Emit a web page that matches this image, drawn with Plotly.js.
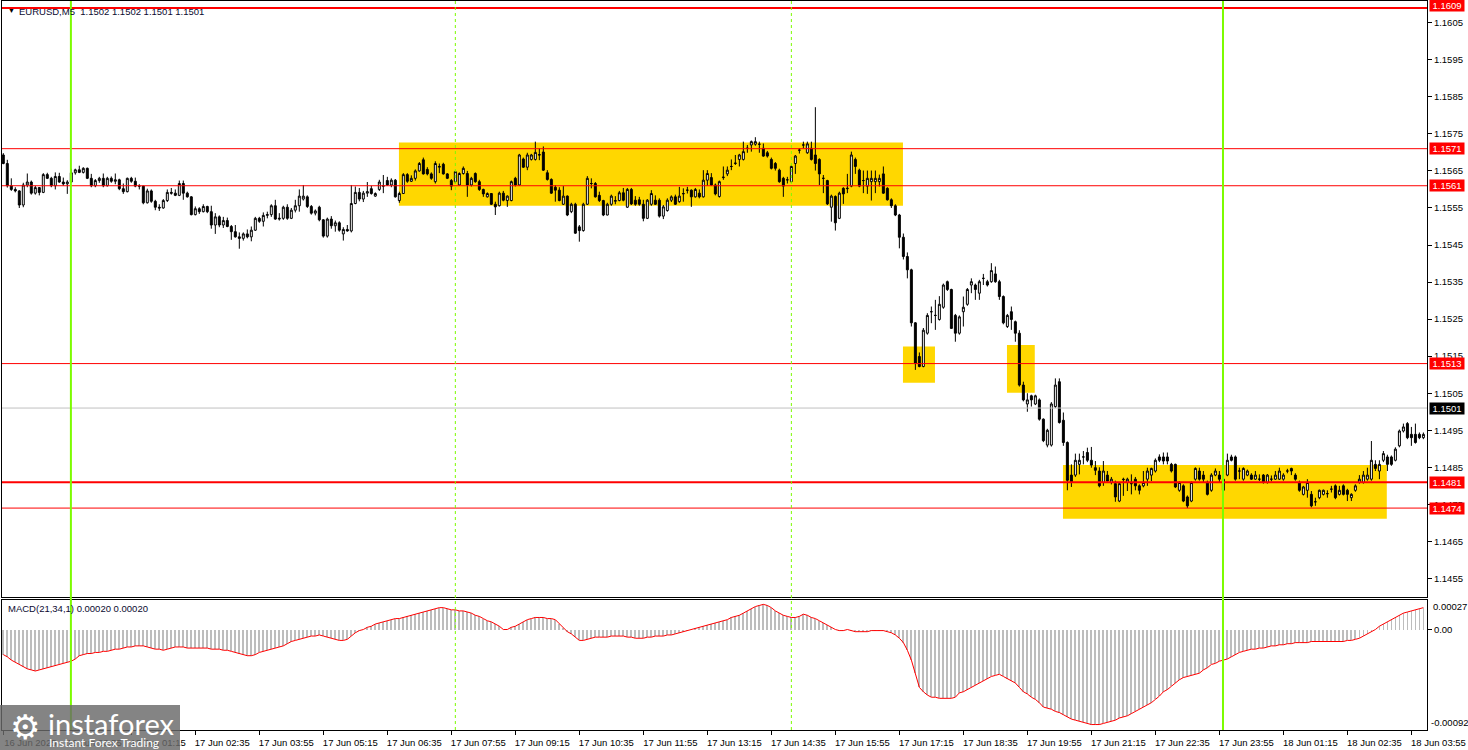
<!DOCTYPE html>
<html>
<head>
<meta charset="utf-8">
<script src="https://cdn.plot.ly/plotly-3.0.1.min.js"></script>
<style>html,body{margin:0;padding:0;background:#fff;}#chart{width:1468px;height:750px;}</style>
</head>
<body>
<div id="chart"></div>
<script>
// ---- DATA (prices as pips above 1.1500) ----
const BASE = 1.15;
const openPips = [
69.3,67.0,61.0,60.0,59.6,55.8,61.2,62.0,59.0,60.5,
59.2,64.0,63.0,61.0,63.5,62.0,61.5,62.0,64.5,65.3,
64.6,65.7,63.0,61.0,62.4,63.0,61.0,63.0,62.2,62.6,
60.2,59.4,63.0,62.2,60.9,60.9,56.4,59.6,56.8,55.2,
55.0,57.0,59.2,59.0,58.4,61.6,59.0,58.0,53.2,54.8,
54.0,55.4,54.0,50.4,52.6,50.4,51.6,50.0,48.6,47.2,
46.8,48.0,47.2,49.0,52.2,51.4,53.0,53.2,55.6,52.0,
52.2,55.2,52.2,54.4,55.6,57.4,58.0,55.4,53.6,55.2,
51.8,47.4,52.0,50.2,51.0,48.0,49.2,48.8,56.2,59.2,
57.4,59.0,60.2,58.2,60.0,61.0,62.4,61.2,62.5,57.0,
58.9,64.0,62.2,63.0,65.0,68.0,65.4,64.2,62.1,66.0,
66.8,64.2,62.4,62.1,61.2,64.3,64.3,61.2,64.3,62.1,
60.0,58.0,58.9,56.0,55.6,59.0,57.0,57.0,63.0,61.2,
68.2,66.0,68.1,68.1,69.4,70.1,64.5,62.7,60.6,59.8,
56.0,58.2,54.0,56.0,49.9,48.9,56.0,61.6,61.6,58.4,
57.0,53.1,56.0,56.8,57.0,59.1,55.2,60.0,57.1,57.2,
56.0,52.2,56.0,57.1,57.1,52.8,54.3,57.1,58.0,56.7,
58.8,59.8,59.8,58.0,59.0,58.0,62.5,63.2,61.2,58.1,
63.2,64.2,66.2,67.0,68.1,68.1,71.1,72.0,72.2,72.2,
71.1,69.9,68.1,67.0,65.2,63.0,62.6,62.1,67.0,70.6,
72.0,69.9,71.1,69.3,68.1,63.0,62.4,55.2,58.1,52.2,
60.3,60.2,60.9,68.1,65.2,62.4,60.9,62.1,62.1,62.1,
64.2,60.3,57.2,55.6,53.1,47.1,41.9,38.3,24.0,14.9,
12.2,21.2,27.0,26.0,24.9,28.2,35.1,33.0,26.0,21.2,
27.0,29.0,34.2,34.2,32.0,36.0,35.1,35.1,37.2,35.1,
31.1,23.0,27.0,24.3,21.2,7.2,2.1,4.3,2.1,3.2,
-2.0,-9.0,-9.0,1.4,8.1,-2.3,-8.3,-17.1,-17.1,-14.2,
-12.2,-11.0,-13.1,-15.1,-16.0,-19.1,-17.1,-19.1,-19.4,-24.1,
-18.2,-19.1,-19.4,-18.2,-20.0,-20.0,-18.2,-17.1,-16.0,-12.2,
-12.2,-12.2,-14.2,-14.2,-21.2,-20.0,-23.0,-24.1,-18.2,-16.0,
-17.1,-19.1,-21.2,-17.1,-17.1,-21.2,-17.1,-12.2,-12.2,-16.0,
-18.2,-17.1,-17.1,-18.2,-18.2,-17.1,-19.1,-18.2,-18.2,-18.2,
-18.2,-16.0,-15.3,-17.1,-19.1,-22.3,-21.2,-22.3,-24.3,-23.2,
-22.3,-22.1,-20.9,-20.0,-22.3,-20.0,-21.2,-23.2,-21.2,-19.1,
-19.1,-18.2,-18.2,-14.2,-16.0,-13.1,-12.2,-12.2,-13.1,-9.2,
-5.2,-3.2,-6.1,-6.1,-6.1,-7.0];
const highPips = [
69.8,68.0,63.0,60.6,59.8,61.8,64.3,62.4,61.0,60.6,
64.4,64.5,63.4,64.6,64.5,63.2,62.5,65.6,65.6,66.4,
66.0,65.9,64.2,62.8,63.4,64.3,63.4,63.5,64.3,62.9,
61.6,63.2,63.4,63.2,61.4,61.0,60.2,60.0,57.2,56.0,
57.4,60.0,60.4,60.0,62.4,62.4,59.4,58.2,55.4,55.2,
56.0,55.6,55.6,53.6,53.0,52.6,52.4,50.4,50.4,48.4,
48.4,49.2,50.0,52.6,52.6,53.8,54.0,56.0,57.2,53.6,
55.6,56.0,55.0,57.2,60.0,61.2,58.4,55.8,54.6,55.6,
52.0,52.4,52.8,51.6,51.4,49.8,50.4,61.2,60.8,60.4,
59.6,62.0,61.0,59.2,62.6,63.9,63.4,63.0,62.8,59.4,
64.4,64.4,63.8,65.4,67.4,68.6,66.0,64.6,67.6,67.0,
67.2,64.4,62.8,65.0,64.6,66.2,65.0,63.4,64.6,62.6,
60.2,59.2,59.0,56.7,59.4,59.6,58.4,62.4,63.4,69.6,
68.6,69.9,69.6,72.9,71.1,71.6,65.2,63.0,61.2,60.6,
60.9,58.4,56.4,56.4,50.4,56.4,63.6,63.0,62.0,59.4,
57.2,56.4,58.6,58.2,59.6,60.4,60.4,60.4,58.2,58.0,
57.2,57.4,59.8,58.4,57.6,55.8,57.6,58.4,58.6,60.7,
60.3,60.7,60.0,60.4,60.0,65.2,65.2,64.4,61.6,62.4,
66.2,66.2,68.1,69.3,69.6,72.9,72.0,73.2,74.1,72.9,
72.4,70.4,68.6,67.4,65.6,63.4,63.4,66.6,69.3,71.1,
72.9,72.9,72.9,82.2,68.4,63.9,62.6,58.6,58.4,59.4,
60.6,64.2,70.2,68.6,65.6,65.1,65.1,65.1,65.1,64.0,
66.2,60.6,57.6,56.0,53.4,48.1,43.0,38.6,24.2,16.0,
22.6,26.6,28.4,30.2,31.2,34.6,35.4,33.2,26.4,26.0,
31.1,33.4,36.0,34.6,35.6,37.2,35.6,40.1,39.2,35.6,
31.4,26.4,28.4,24.6,22.0,8.1,5.0,4.6,4.6,3.6,
-1.8,-4.6,2.6,9.0,9.0,-0.2,-8.0,-14.2,-11.3,-11.3,
-10.6,-9.7,-9.5,-13.3,-15.0,-13.3,-16.0,-17.6,-18.6,-19.0,
-17.8,-17.8,-16.9,-17.6,-19.6,-16.0,-15.1,-15.1,-12.6,-11.5,
-11.0,-11.0,-13.8,-14.0,-18.8,-19.6,-22.6,-18.8,-15.0,-15.1,
-16.0,-18.6,-16.6,-15.3,-16.0,-18.0,-11.3,-11.6,-11.8,-15.1,
-15.0,-15.6,-16.6,-16.0,-16.9,-16.8,-16.8,-17.2,-16.0,-15.1,
-16.6,-15.4,-15.1,-16.6,-18.6,-20.0,-18.2,-21.4,-23.2,-21.0,
-21.0,-21.2,-20.0,-19.6,-20.0,-19.6,-20.8,-22.0,-19.6,-17.1,
-16.0,-15.1,-7.9,-13.1,-13.1,-10.6,-11.6,-11.8,-9.6,-4.8,
-3.2,-2.8,-4.1,-3.2,-5.6,-5.6];
const lowPips = [
66.8,60.5,59.6,59.2,55.0,55.2,60.6,58.6,58.6,58.4,
59.0,62.8,60.6,60.0,61.8,61.0,58.8,61.8,64.0,64.4,
64.3,62.8,60.6,60.6,61.8,60.6,60.8,61.8,61.4,59.8,
58.8,59.2,61.8,60.6,60.0,56.0,56.2,56.4,54.4,54.2,
54.8,56.6,58.6,58.2,58.2,57.2,57.8,53.0,53.0,53.4,
53.8,53.6,49.4,48.0,49.8,49.6,49.8,46.4,47.0,44.0,
46.2,46.8,46.0,48.8,51.0,50.0,52.2,52.6,51.8,51.6,
51.8,51.8,52.0,53.8,54.0,57.0,55.0,53.2,53.0,51.4,
47.0,47.0,49.4,48.6,48.6,46.2,48.6,48.4,56.0,56.8,
56.6,58.0,58.6,58.0,59.6,59.0,61.0,60.6,57.8,56.4,
58.8,61.8,62.0,62.4,64.8,64.0,63.8,62.6,61.6,64.4,
64.0,62.8,59.8,61.6,61.0,64.0,58.0,60.8,61.8,59.6,
58.0,57.8,55.8,53.1,55.4,56.8,55.3,56.8,60.8,61.0,
65.8,65.2,67.8,67.8,67.9,65.0,62.4,58.8,56.7,56.8,
55.8,52.8,53.6,48.0,45.9,48.6,55.8,60.3,57.8,56.6,
52.8,53.0,55.6,56.0,56.8,56.8,55.0,55.8,55.6,55.6,
51.4,52.0,55.6,55.8,52.4,52.0,54.0,56.6,55.8,56.4,
56.7,58.9,55.3,57.8,57.6,57.8,61.0,61.0,58.4,57.8,
62.6,63.6,65.2,66.6,66.2,67.8,69.9,70.2,71.8,69.9,
68.8,68.6,65.4,65.1,61.8,58.0,61.6,61.8,64.2,69.7,
71.1,69.6,67.8,65.1,61.2,59.0,55.8,51.3,48.9,52.0,
56.1,59.0,60.6,64.2,60.6,59.0,58.8,57.0,59.0,60.8,
58.8,57.0,55.0,52.8,44.1,41.1,36.0,23.0,11.3,12.0,
12.0,20.8,23.9,22.1,24.6,27.8,32.6,22.4,18.9,20.8,
23.0,28.6,32.0,30.2,30.2,34.2,33.8,34.8,34.8,30.2,
23.6,22.6,22.1,18.9,6.8,2.8,0.0,1.4,1.8,-2.4,
-8.2,-9.6,-9.4,1.0,-3.2,-9.2,-21.2,-20.3,-17.6,-16.9,
-14.2,-13.6,-15.1,-17.1,-20.4,-20.0,-18.8,-19.6,-24.3,-24.4,
-22.7,-21.4,-22.3,-21.2,-22.3,-20.4,-20.0,-18.7,-16.4,-13.6,
-14.2,-14.2,-16.4,-20.6,-21.6,-24.4,-26.0,-24.4,-18.6,-18.6,
-19.1,-22.6,-21.6,-17.4,-19.1,-21.6,-17.4,-13.4,-18.6,-18.2,
-18.6,-17.4,-18.4,-18.4,-18.7,-19.4,-19.4,-18.8,-18.4,-18.4,
-18.6,-16.6,-17.1,-18.6,-21.6,-22.6,-23.2,-25.8,-25.4,-23.6,
-22.6,-23.2,-21.8,-23.6,-22.6,-22.6,-24.1,-24.1,-21.6,-19.4,
-19.4,-18.6,-18.6,-16.0,-18.2,-13.6,-16.0,-14.6,-13.4,-9.6,
-5.6,-7.4,-9.2,-8.6,-7.4,-7.4];
const closePips = [
67.0,61.0,60.0,59.6,55.8,61.2,62.0,59.0,60.5,59.2,
64.0,63.0,61.0,63.5,62.0,61.5,62.0,64.5,65.3,64.6,
65.7,63.0,61.0,62.4,63.0,61.0,63.0,62.2,62.6,60.2,
59.4,63.0,62.2,60.9,60.9,56.4,59.6,56.8,55.2,55.0,
57.0,59.2,59.0,58.4,61.6,59.0,58.0,53.2,54.8,54.0,
55.4,54.0,50.4,52.6,50.4,51.6,50.0,48.6,47.2,46.8,
48.0,47.2,49.0,52.2,51.4,53.0,53.2,55.6,52.0,52.2,
55.2,52.2,54.4,55.6,58.2,58.2,55.4,53.6,54.2,51.8,
47.4,52.0,50.2,51.0,49.0,49.2,48.8,56.2,59.2,57.4,
59.0,59.4,58.9,58.9,62.0,60.9,61.2,62.5,58.0,58.9,
64.0,62.2,63.0,65.0,67.0,64.2,64.2,63.0,67.0,66.2,
64.2,63.0,60.9,64.8,64.3,65.7,61.2,63.0,62.1,60.0,
58.8,58.9,56.0,55.3,59.0,57.1,58.2,62.1,61.2,69.3,
66.0,69.3,69.3,70.0,69.3,65.2,62.7,59.0,59.8,57.0,
58.2,53.1,56.0,48.2,48.9,56.0,63.0,61.6,58.0,57.0,
53.1,56.0,58.2,57.0,59.1,57.1,60.0,56.1,56.0,56.0,
52.2,57.1,58.9,56.0,52.8,55.3,57.1,58.0,56.0,58.2,
58.9,59.8,58.0,60.0,58.0,62.5,64.3,61.2,58.8,62.1,
63.3,65.2,66.2,67.1,69.3,70.2,71.1,72.9,72.9,72.2,
69.0,69.0,65.7,65.7,62.1,60.9,62.6,66.2,69.0,70.6,
72.0,72.3,68.1,67.0,64.2,63.0,56.1,58.2,51.0,59.0,
58.8,60.3,69.3,66.2,60.9,62.4,63.0,63.0,63.0,63.0,
59.0,57.2,55.6,53.1,47.1,41.9,38.3,24.0,13.0,12.2,
22.0,26.0,27.0,26.0,29.0,34.2,33.0,22.5,21.2,25.6,
28.2,33.0,35.1,33.0,35.1,36.0,34.2,38.1,35.1,31.1,
24.0,26.0,24.9,21.2,7.2,3.2,3.2,3.2,4.3,-2.0,
-7.8,-5.0,2.1,7.2,-2.9,-8.3,-18.5,-18.9,-13.1,-13.1,
-12.2,-13.1,-14.4,-15.8,-20.0,-16.0,-18.7,-18.2,-23.0,-19.4,
-18.3,-18.2,-19.4,-20.0,-21.2,-19.1,-16.0,-15.3,-13.1,-13.1,
-13.3,-13.3,-16.0,-20.3,-19.1,-24.1,-25.4,-19.1,-15.3,-18.2,
-18.2,-22.3,-17.1,-16.0,-18.2,-18.2,-13.1,-13.1,-18.2,-16.0,
-15.3,-16.0,-18.2,-17.1,-18.2,-19.1,-17.1,-18.2,-17.1,-16.0,
-17.1,-16.0,-16.0,-18.2,-21.2,-20.3,-19.1,-25.4,-24.3,-21.2,
-21.2,-22.1,-20.9,-23.2,-21.2,-22.3,-22.3,-22.3,-20.0,-18.2,
-17.1,-17.1,-13.1,-15.3,-14.2,-11.3,-14.2,-14.2,-10.1,-5.2,
-4.1,-7.0,-7.0,-8.3,-7.0,-6.1];
// MACD(21,34,1) main = signal, in units of 0.00001
const macdUnits = [
-23,-25,-28,-30,-32,-34,-36,-37,-38,-37,
-36,-35,-34,-33,-32,-31,-30,-29,-27,-24,
-23,-22,-22,-21,-21,-20,-20,-19,-18,-18,
-17,-16,-16,-15,-15,-15,-16,-17,-18,-18,
-19,-18,-17,-16,-16,-16,-17,-17,-17,-17,
-17,-17,-18,-18,-18,-19,-19,-20,-21,-22,
-23,-24,-24,-23,-21,-20,-19,-18,-17,-16,
-15,-13,-11,-10,-9,-8,-7,-6,-6,-5,
-6,-7,-8,-9,-10,-10,-9,-6,-3,-1,
0,2,3,5,6,7,8,9,10,10,
11,12,13,14,15,16,17,18,19,20,
20,19,18,18,17,17,16,15,13,12,
10,8,7,5,3,0,0,2,3,5,
7,9,10,11,11,11,10,10,9,5,
1,-2,-4,-7,-10,-10,-9,-8,-7,-7,
-7,-7,-6,-6,-6,-6,-7,-7,-8,-8,
-8,-7,-7,-6,-6,-6,-5,-5,-4,-3,
-2,-1,0,1,2,3,4,5,6,7,
8,9,11,12,13,15,17,19,21,22,
23,22,20,17,15,13,12,11,11,12,
14,13,11,10,8,6,4,2,0,-1,
-1,0,-1,-2,-2,-2,-2,-1,-1,-1,
-1,-2,-3,-5,-8,-12,-19,-28,-40,-53,
-57,-60,-62,-62,-63,-63,-63,-63,-62,-58,
-57,-55,-53,-51,-49,-47,-45,-43,-42,-41,
-43,-45,-47,-49,-53,-57,-59,-62,-64,-67,
-71,-72,-73,-75,-76,-78,-80,-82,-83,-84,
-85,-86,-87,-87,-87,-86,-85,-84,-83,-81,
-80,-79,-77,-75,-73,-71,-69,-67,-64,-61,
-57,-55,-52,-49,-46,-44,-43,-42,-41,-40,
-37,-35,-32,-31,-29,-28,-27,-25,-23,-21,
-20,-19,-18,-18,-17,-17,-16,-15,-15,-14,
-14,-13,-13,-12,-12,-12,-12,-11,-11,-11,
-11,-11,-11,-11,-11,-11,-10,-10,-9,-8,
-6,-4,-2,0,3,5,7,9,11,13,
15,16,17,18,19,20];
const tickIndex = [0,16,32,48,64,80,96,112,128,144,160,176,192,208,224,240,256,272,288,304,320,336,352];
const tickLabels = ["16 Jun 2025","16 Jun 23:55","17 Jun 01:15","17 Jun 02:35","17 Jun 03:55","17 Jun 05:15","17 Jun 06:35","17 Jun 07:55","17 Jun 09:15","17 Jun 10:35","17 Jun 11:55","17 Jun 13:15","17 Jun 14:35","17 Jun 15:55","17 Jun 17:15","17 Jun 18:35","17 Jun 19:55","17 Jun 21:15","17 Jun 22:35","17 Jun 23:55","18 Jun 01:15","18 Jun 02:35","18 Jun 03:55"];
const priceTickLabels = ["1.1455","1.1465","1.1475","1.1485","1.1495","1.1505","1.1515","1.1525","1.1535","1.1545","1.1555","1.1565","1.1575","1.1585","1.1595","1.1605"];
const redLevels = [1.1609, 1.1571, 1.1561, 1.1513, 1.1481, 1.1474];
const redLevelLabels = ["1.1609","1.1571","1.1561","1.1513","1.1481","1.1474"];
const bidLevel = 1.1501;
const headerText = "EURUSD,M5\u00a0\u00a01.1502\u00a01.1502\u00a01.1501\u00a01.1501";
const macdText = "MACD(21,34,1)\u00a00.00020\u00a00.00020";

// ---- BUILD ----
const n = closePips.length;
const idx = Array.from({length:n}, (_, i) => i);
const toP = v => +(BASE + v/10000).toFixed(5);
const O = openPips.map(toP), Hh = highPips.map(toP), Lw = lowPips.map(toP), C = closePips.map(toP);
const macd = macdUnits.map(v => v*1e-5);

const W = 1468, HT = 750, ML = 2, MR = 41, MT = 1, MB = 20;
const plotW = W - ML - MR, plotH = HT - MT - MB;
const px = X => (X - ML)/plotW;
const py = Y => (HT - MB - Y)/plotH;
const xRange = [-0.325, 355.9];
const FONT = 'Liberation Sans, Arial, sans-serif';

const traces = [
  {type:'candlestick', x: idx, open: O, high: Hh, low: Lw, close: C,
   xaxis:'x', yaxis:'y', whiskerwidth: 0, hoverinfo:'skip',
   increasing:{line:{color:'#000000', width:1}, fillcolor:'#ffffff'},
   decreasing:{line:{color:'#000000', width:1}, fillcolor:'#000000'}},
  {type:'bar', x: idx, y: macd, xaxis:'x2', yaxis:'y2', width:0.45,
   marker:{color:'#bdbdbd', line:{width:0}}, hoverinfo:'skip'},
  {type:'scatter', mode:'lines', x: idx, y: macd, xaxis:'x2', yaxis:'y2',
   line:{color:'#ff0000', width:1}, hoverinfo:'skip'}
];

const shapes = [];
// yellow zones
[[98.9,224.9,1.15556,1.15727],[224.9,232.9,1.15078,1.15176],[250.9,257.85,1.15051,1.15180],[264.9,345.85,1.14711,1.14856]].forEach(r => {
  shapes.push({type:'rect', xref:'x', yref:'y', x0:r[0], x1:r[1], y0:r[2], y1:r[3], fillcolor:'#FFD700', line:{width:0}, layer:'below'});
});
// bid line
shapes.push({type:'line', xref:'paper', yref:'y', x0:0, x1:1, y0:bidLevel, y1:bidLevel, line:{color:'#c0c0c0', width:1}, layer:'above'});
// red levels
redLevels.forEach((lv, k) => {
  const w = (k === 0 || k === 4) ? 2 : 1;
  shapes.push({type:'line', xref:'paper', yref:'y', x0:0, x1:1, y0:lv, y1:lv, line:{color:'#ff0000', width:w}, layer:'above'});
});
// green vertical lines
[16.9, 304.9].forEach(v => shapes.push({type:'line', xref:'x', yref:'paper', x0:v, x1:v, y0:0, y1:1, line:{color:'#7CFC00', width:2}, layer:'above'}));
[113, 197].forEach(v => shapes.push({type:'line', xref:'x', yref:'paper', x0:v, x1:v, y0:0, y1:1, line:{color:'#7CFC00', width:1, dash:'3px,3px'}, layer:'above'}));
// logo backdrop
shapes.push({type:'rect', xref:'paper', yref:'paper', x0:px(0), x1:px(180), y0:py(750), y1:py(705), fillcolor:'rgba(105,105,105,0.82)', line:{width:0}, layer:'above'});

const annotations = [];
annotations.push({xref:'paper', yref:'paper', x:px(6), y:py(10.5), xanchor:'left', yanchor:'middle', showarrow:false,
  text:'\u25BC', font:{family:FONT, size:7, color:'#000'}});
annotations.push({xref:'paper', yref:'paper', x:px(17), y:py(11), xanchor:'left', yanchor:'middle', showarrow:false,
  text:headerText, font:{family:FONT, size:9.5, color:'#0a0a30'}});
annotations.push({xref:'paper', yref:'paper', x:px(6), y:py(608), xanchor:'left', yanchor:'middle', showarrow:false,
  text:macdText, font:{family:FONT, size:9.5, color:'#0a0a30'}});
redLevels.forEach((lv, k) => {
  annotations.push({xref:'paper', yref:'y', x:px(1429), y:lv, yshift:(k===0?2:0), xanchor:'left', yanchor:'middle', showarrow:false,
    text:redLevelLabels[k], bgcolor:'#ff0000', width:34, height:11, borderpad:0,
    font:{family:FONT, size:9.5, color:'#ffffff'}});
});
annotations.push({xref:'paper', yref:'y', x:px(1429), y:bidLevel, xanchor:'left', yanchor:'middle', showarrow:false,
  text:'1.1501', bgcolor:'#000000', width:34, height:11, borderpad:0, font:{family:FONT, size:9.5, color:'#ffffff'}});
annotations.push({xref:'paper', yref:'paper', x:px(1431), y:py(606.5), xanchor:'left', yanchor:'middle', showarrow:false,
  text:'0.00027', font:{family:FONT, size:9.5, color:'#000'}});
annotations.push({xref:'paper', yref:'paper', x:px(1429), y:py(722), xanchor:'left', yanchor:'middle', showarrow:false,
  text:'-0.00092', font:{family:FONT, size:9.5, color:'#000'}});
// watermark
annotations.push({xref:'paper', yref:'paper', x:px(25), y:py(727), xanchor:'center', yanchor:'middle', showarrow:false,
  text:'\u2699', font:{family:'DejaVu Sans', size:34, color:'#ffffff'}});
annotations.push({xref:'paper', yref:'paper', x:px(46), y:py(723), xanchor:'left', yanchor:'middle', showarrow:false,
  text:'instaforex', font:{family:'Lato, Roboto, sans-serif', size:29, color:'#ffffff'}});
annotations.push({xref:'paper', yref:'paper', x:px(47), y:py(742), xanchor:'left', yanchor:'middle', showarrow:false,
  text:'Instant Forex Trading', font:{family:'Lato, Roboto, sans-serif', size:12, color:'#ffffff'}});

const axisLine = {showline:true, linecolor:'#000', linewidth:1, mirror:true, showgrid:false, zeroline:false, fixedrange:true};
const layout = {
  width: W, height: HT,
  margin:{l:ML, r:MR, t:MT, b:MB, pad:0},
  paper_bgcolor:'#ffffff', plot_bgcolor:'#ffffff',
  showlegend:false, boxgap:0.3, boxgroupgap:0.3, bargap:0,
  font:{family:FONT, size:9.5, color:'#000'},
  xaxis: Object.assign({}, axisLine, {anchor:'y', domain:[0,1], range:xRange, showticklabels:false, ticks:'', rangeslider:{visible:false}}),
  yaxis: Object.assign({}, axisLine, {anchor:'x', domain:[py(597),1], range:[1.14500,1.161086], side:'right',
    tickvals: priceTickLabels.map(Number), ticktext: priceTickLabels, ticks:'outside', ticklen:4, tickcolor:'#000',
    tickfont:{family:FONT, size:9.5, color:'#000'}}),
  xaxis2: Object.assign({}, axisLine, {anchor:'y2', domain:[0,1], range:xRange, tickvals:tickIndex, ticktext:tickLabels,
    ticks:'outside', ticklen:4, tickcolor:'#000', ticklabelshift:27, tickangle:0,
    tickfont:{family:FONT, size:9.5, color:'#000'}}),
  yaxis2: Object.assign({}, axisLine, {anchor:'x2', domain:[0,py(600)], range:[-0.00092,0.00027], side:'right',
    tickvals:[0], ticktext:['0.00'], ticks:'outside', ticklen:4, tickcolor:'#000',
    tickfont:{family:FONT, size:9.5, color:'#000'}}),
  shapes: shapes,
  annotations: annotations
};
Plotly.newPlot('chart', traces, layout, {staticPlot:true, displayModeBar:false});
</script>
</body>
</html>
